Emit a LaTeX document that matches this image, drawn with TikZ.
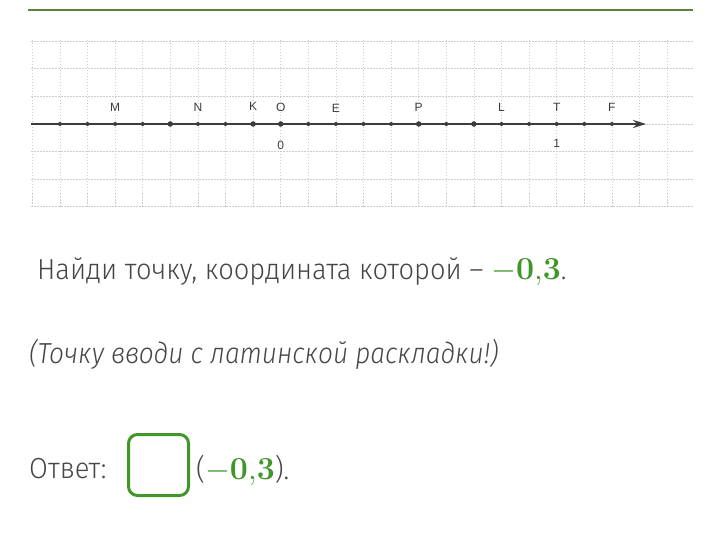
\documentclass[tikz,border=0pt]{standalone}
\usepackage[no-math]{fontspec}
\setmainfont{Fira Sans}[UprightFont={* Light},ItalicFont={* Light Italic},FakeStretch=0.94,ItalicFeatures={FakeStretch=0.905}]
\newfontfamily\axisfont{Liberation Sans}
\usetikzlibrary{positioning,arrows.meta}
\definecolor{txt}{RGB}{70,70,70}
\definecolor{ans}{RGB}{64,150,40}
\definecolor{rulec}{RGB}{90,130,60}
\definecolor{gridc}{RGB}{205,205,205}
\definecolor{axisc}{RGB}{60,60,60}
\tikzset{
  cell/.style={gridc,dash pattern=on 1.5pt off 1.5pt,line width=.7pt},
  pt/.style={circle,fill=axisc,inner sep=0pt,minimum size=4pt},
  bigpt/.style={pt,minimum size=5.5pt},
  lbl/.style={font=\axisfont\fontsize{12}{14}\selectfont,text=axisc,inner sep=0pt},
  body/.style={font=\fontsize{29}{34}\selectfont,text=txt,anchor=base west,inner sep=0pt},
}
\newcommand\ansval{{\fontsize{24.88}{30}\selectfont\textcolor{ans}{\scalebox{1.29}{$-\mathbf{0{,}3}$}}}}
\begin{document}
\begin{tikzpicture}[x=1pt,y=-1pt]
 \useasboundingbox (0,0) rectangle (720,548);
 \draw[rulec,line width=1.3pt] (28,10) -- (693,10);
 %
 % grid
 \foreach \k in {-9,...,14}
   \draw[cell] ({280.7+27.6*\k},40) -- ({280.7+27.6*\k},207);
 \foreach \j in {-3,...,3}
   \draw[cell] (31,{124+27.6*\j}) -- (693,{124+27.6*\j});
 %
 % axis
 \coordinate (start) at (31,124);
 \coordinate (tip) at (646,124);
 \draw[axisc,line width=2.4pt,-{Stealth[length=13pt,width=8pt]}] (start) -- (tip);
 \foreach \k in {-8,...,12}
   \node[pt] (d\k) at ({280.7+27.6*\k},124) {};
 \foreach \k in {-4,-1,0,5,7}
   \node[bigpt] at (d\k) {};
 %
 \node[lbl,above=10pt of d-6] (M) {M};
 \node[lbl,above=10pt of d-3] (N) {N};
 \node[lbl,above=11pt of d-1] (K) {K};
 \node[lbl,above=10pt of d0] (O) {O};
 \node[lbl,above=9pt of d2] (E) {E};
 \node[lbl,above=10pt of d5] (P) {P};
 \node[lbl,above=10pt of d8] (L) {L};
 \node[lbl,above=10pt of d10] (T) {T};
 \node[lbl,above=10pt of d12] (F) {F};
 \node[lbl,below=15pt of d0] (zero) {0};
 \node[lbl,below=13pt of d10] (one) {1};
 %
 % task
 \node[body] (ask) at (37,279) {Найди точку, координата которой – \ansval.};
 \node[body] (hint) at (29,363) {\itshape (Точку вводи с латинской раскладки!)};
 \node[body] (reply) at (29,478) {Ответ:};
 \node[draw=ans,line width=3pt,rounded corners=9pt,minimum width=60pt,minimum height=61pt,inner sep=0pt,anchor=west] (box) at (127,465) {};
 \node[body,anchor=base west] (val) at (196,479) {(\ansval).};
\end{tikzpicture}
\end{document}
